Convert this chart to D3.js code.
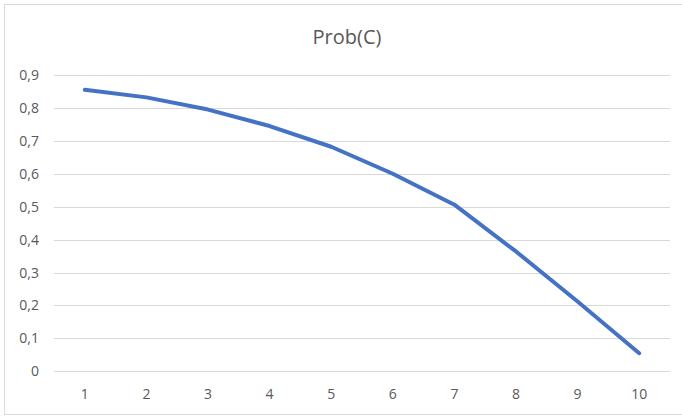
<!DOCTYPE html>
<html>
<head>
<meta charset="utf-8">
<script src="https://cdn.jsdelivr.net/npm/d3@7"></script>
<style>
  html, body { margin: 0; padding: 0; background: #fff; }
  svg { display: block; }
</style>
</head>
<body>
<svg id="chart" width="682" height="416"></svg>
<script>
// Probability per step
const categories = ["1", "2", "3", "4", "5", "6", "7", "8", "9", "10"];
const probC = [0.855, 0.832, 0.795, 0.745, 0.682, 0.600, 0.506, 0.364, 0.212, 0.055];
const yTicks = [0, 0.1, 0.2, 0.3, 0.4, 0.5, 0.6, 0.7, 0.8, 0.9];
const title = "Prob(C)";

const svg = d3.select("#chart");
const W = 682, H = 416;
const font = "'Open Sans', sans-serif";
const textColor = "#595959";

// Chart frame
svg.append("rect")
  .attr("x", 4.5).attr("y", 4.5)
  .attr("width", W + 10).attr("height", 410)
  .attr("fill", "#fff").attr("stroke", "#d9d9d9").attr("stroke-width", 1);

const plot = { left: 54, right: 670, top: 75, bottom: 371.3 };

const x = d3.scaleBand().domain(categories).range([plot.left, plot.right]);
const y = d3.scaleLinear().domain([0, 0.9]).range([plot.bottom, plot.top]);

const fmt = v => d3.format(".1f")(v).replace(".", ",");

// Gridlines
svg.append("g")
  .selectAll("line")
  .data(yTicks)
  .join("line")
  .attr("x1", plot.left).attr("x2", plot.right)
  .attr("y1", d => Math.round(y(d)) + 0.5).attr("y2", d => Math.round(y(d)) + 0.5)
  .attr("stroke", "#d9d9d9").attr("stroke-width", 1);

// Y axis labels
const yAxis = d3.axisLeft(y).tickValues(yTicks).tickSize(0).tickPadding(15)
  .tickFormat(d => d === 0 ? "0" : fmt(d));
svg.append("g")
  .attr("transform", `translate(${plot.left},0)`)
  .call(yAxis)
  .call(g => g.select(".domain").remove())
  .call(g => g.selectAll("text")
    .attr("fill", textColor)
    .style("font-family", font).style("font-size", "14px"));

// X axis labels
const xAxis = d3.axisBottom(x).tickSize(0).tickPadding(18);
svg.append("g")
  .attr("transform", `translate(0,${plot.bottom})`)
  .call(xAxis)
  .call(g => g.select(".domain").remove())
  .call(g => g.selectAll("text")
    .attr("fill", textColor)
    .style("font-family", font).style("font-size", "14px"));

// Series line
const line = d3.line()
  .x((d, i) => x(categories[i]) + x.bandwidth() / 2)
  .y(d => y(d));

svg.append("path")
  .datum(probC)
  .attr("d", line)
  .attr("fill", "none")
  .attr("stroke", "#4472c4")
  .attr("stroke-width", 4)
  .attr("stroke-linejoin", "round")
  .attr("stroke-linecap", "round");

// Title
svg.append("text")
  .attr("x", 347).attr("y", 44)
  .attr("text-anchor", "middle")
  .attr("fill", textColor)
  .style("font-family", font).style("font-size", "20px")
  .text(title);
</script>
</body>
</html>
